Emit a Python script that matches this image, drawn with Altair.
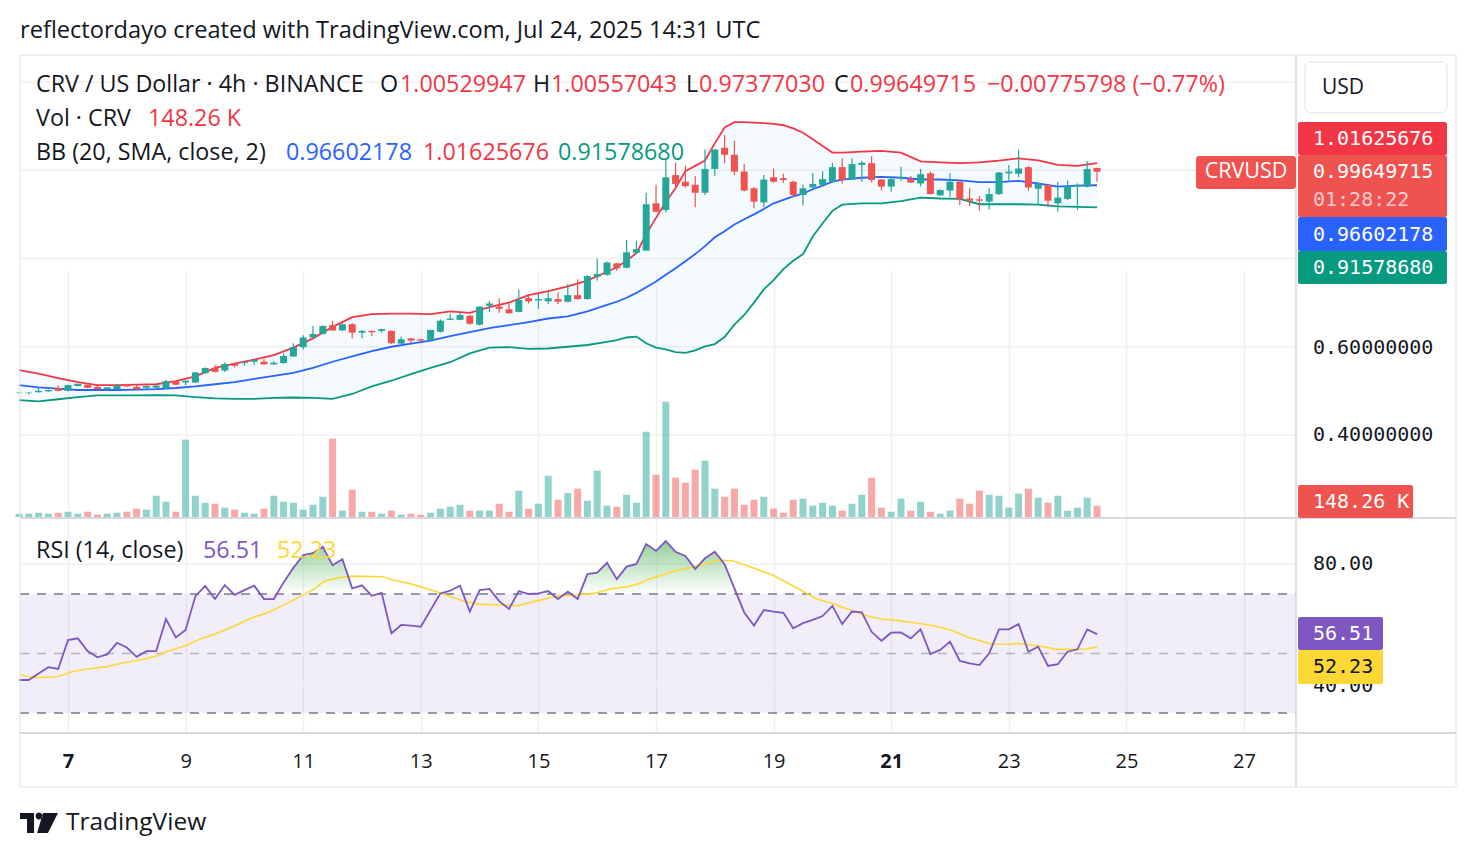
import altair as alt
import pandas as pd

# ---------------- data ----------------
# candle open times, hours after Jul 7 2025 00:00 UTC (4h bars)
hours = [-20, -16, -12, -8, -4, 0, 4, 8, 12, 16,
         20, 24, 28, 32, 36, 40, 44, 48, 52, 56,
         60, 64, 68, 72, 76, 80, 84, 88, 92, 96,
         100, 104, 108, 112, 116, 120, 124, 128, 132, 136,
         140, 144, 148, 152, 156, 160, 164, 168, 172, 176,
         180, 184, 188, 192, 196, 200, 204, 208, 212, 216,
         220, 224, 228, 232, 236, 240, 244, 248, 252, 256,
         260, 264, 268, 272, 276, 280, 284, 288, 292, 296,
         300, 304, 308, 312, 316, 320, 324, 328, 332, 336,
         340, 344, 348, 352, 356, 360, 364, 368, 372, 376,
         380, 384, 388, 392, 396, 400, 404, 408, 412, 416, 420]

opens = [.495, .495, .497, .499, .506, .500, .511, .514, .509, .504,
         .504, .515, .509, .507, .507, .506, .522, .519, .519, .540,
         .552, .546, .562, .563, .566, .566, .560, .563, .578, .599,
         .621, .629, .649, .637, .651, .632, .636, .636, .636, .607,
         .619, .617, .615, .634, .661, .661, .670, .650, .693, .691,
         .685, .679, .710, .705, .703, .708, .702, .717, .708, .759,
         .763, .789, .779, .813, .818, .925, .910, .989, .974, .967,
         .949, 1.003, 1.051, 1.035, .997, .959, .927, .984, .982, .974,
         .944, .961, .967, .974, 1.007, .979, 1.012, 1.016, .979, .963,
         .982, .980, .970, .993, .943, .954, .974, .936, .934, .929,
         .946, .993, .992, 1.007, .958, .967, .925, .935, .963, .963, 1.00529947]
highs = [.497, .497, .507, .503, .513, .514, .517, .515, .513, .509,
         .515, .516, .513, .512, .513, .525, .523, .524, .543, .553,
         .559, .565, .563, .566, .571, .572, .567, .585, .608, .626,
         .647, .649, .659, .653, .653, .638, .637, .641, .637, .623,
         .620, .618, .639, .662, .674, .678, .672, .692, .704, .710,
         .698, .729, .716, .720, .725, .723, .742, .753, .762, .800,
         .793, .790, .842, .840, .949, .967, 1.023, 1.017, 1.010, .987,
         1.047, 1.048, 1.080, 1.067, 1.014, .962, .989, 1.004, .992, .977,
         .967, .994, .998, 1.017, 1.027, 1.027, 1.021, 1.032, .980, .987,
         1.008, .987, 1.003, .997, .957, .994, .975, .959, .942, .959,
         .996, 1.012, 1.047, 1.010, .971, .968, .974, .976, .970, 1.021, 1.00557043]
lows = [.494, .492, .496, .498, .499, .499, .510, .506, .503, .500,
        .503, .509, .503, .502, .506, .504, .513, .513, .518, .539,
        .542, .543, .553, .557, .559, .559, .559, .562, .577, .594,
        .620, .628, .636, .636, .619, .619, .624, .632, .606, .605,
        .608, .612, .614, .632, .660, .660, .650, .648, .679, .677,
        .675, .678, .698, .686, .697, .697, .701, .707, .707, .750,
        .761, .772, .778, .811, .817, .905, .904, .961, .961, .916,
        .944, .987, 1.016, .989, .952, .914, .916, .972, .972, .939,
        .920, .958, .965, .972, .970, .978, .974, .972, .954, .951,
        .976, .971, .963, .945, .942, .940, .921, .919, .908, .911,
        .944, .974, .984, .954, .921, .917, .906, .932, .910, .961, .97377030]
closes = [.496, .496, .500, .502, .500, .513, .516, .507, .504, .508,
          .512, .510, .504, .511, .512, .522, .514, .523, .542, .552,
          .543, .561, .557, .565, .570, .560, .564, .579, .599, .621,
          .629, .647, .637, .651, .632, .636, .633, .640, .608, .617,
          .614, .614, .638, .659, .664, .672, .652, .691, .698, .686,
          .676, .706, .703, .708, .710, .702, .717, .708, .760, .765,
          .791, .778, .814, .821, .923, .906, .984, .969, .964, .949,
          1.003, 1.047, 1.035, .997, .954, .929, .979, .974, .978, .944,
          .959, .969, .980, 1.007, .978, 1.014, 1.017, .978, .963, .980,
          .985, .972, .991, .946, .955, .974, .934, .931, .931, .946,
          .995, .997, 1.004, .961, .970, .931, .938, .964, .967, 1.003, .99649715]
# volume, thousands of CRV
volumes = [43, 43, 56, 43, 56, 69, 43, 69, 30, 43,
           56, 69, 109, 96, 279, 200, 69, 1013, 279, 187,
           174, 122, 96, 56, 43, 109, 279, 200, 187, 96,
           161, 266, 1026, 83, 358, 69, 69, 43, 83, 30,
           43, 30, 56, 109, 135, 161, 83, 83, 83, 174,
           69, 345, 109, 174, 541, 227, 314, 371, 214, 607,
           148, 135, 292, 187, 1117, 554, 1510, 515, 449, 620,
           738, 371, 266, 371, 161, 227, 266, 109, 56, 227,
           240, 148, 187, 148, 83, 174, 292, 515, 122, 69,
           240, 83, 200, 69, 43, 83, 240, 174, 345, 292,
           279, 122, 305, 371, 253, 187, 279, 83, 122, 253, 148.26]
rsi_values = [41.1, 41.1, 43.3, 45.4, 44.8, 54.5, 55.1, 50.8, 48.7, 49.7,
              53.6, 52.0, 48.9, 50.8, 50.8, 61.6, 55.4, 57.9, 69.3, 72.7,
              68.3, 73.0, 69.7, 71.3, 72.8, 68.3, 68.3, 73.9, 78.8, 83.1,
              83.7, 85.9, 79.7, 81.7, 71.9, 72.9, 69.4, 70.4, 56.8, 59.6,
              59.4, 59.0, 64.6, 70.2, 71.1, 72.8, 64.1, 71.3, 71.7, 67.6,
              65.0, 71.0, 70.0, 70.2, 71.0, 68.3, 70.8, 68.3, 76.7, 77.2,
              80.5, 75.0, 79.2, 80.1, 86.8, 84.5, 87.8, 84.2, 82.8, 78.4,
              82.0, 84.2, 80.0, 71.9, 63.8, 59.4, 64.6, 64.1, 63.7, 58.5,
              60.2, 61.3, 62.6, 66.0, 59.9, 64.1, 63.8, 57.3, 54.3, 57.0,
              57.1, 55.1, 58.1, 49.8, 51.2, 54.0, 47.5, 46.7, 46.1, 50.1,
              58.1, 58.1, 59.9, 50.6, 52.3, 45.8, 46.4, 50.6, 51.4, 58.1, 56.51]

# Bollinger Bands (20, SMA, close, 2)
bb_hours = [-20, -12, -4, 4, 12, 20, 28, 36, 44, 52,
            60, 68, 76, 84, 92, 100, 108, 116, 124, 132,
            140, 148, 156, 164, 172, 180, 188, 196, 204, 212,
            220, 224, 228, 232, 236, 240, 244, 248, 252, 256,
            260, 264, 268, 272, 276, 280, 284, 288, 292, 296,
            300, 304, 308, 312, 316,
            324, 332, 340, 348, 356, 364, 372, 380, 388, 396, 404, 412, 420]
bb_upper = [.547, .539, .529, .520, .513, .513, .514, .515, .522, .533,
            .552, .562, .571, .581, .598, .619, .645, .667, .674, .675,
            .675, .674, .680, .677, .690, .700, .717, .726, .737, .750,
            .770, .780, .795, .812, .855, .892, .928, .960, .998, 1.010,
            1.022, 1.061, 1.097, 1.109, 1.109, 1.108, 1.107, 1.105, 1.102, 1.095,
            1.085, 1.070, 1.055, 1.040, 1.040,
            1.042, 1.044, 1.040, 1.020, 1.018, 1.016, 1.018, 1.022, 1.027, 1.0225, 1.012, 1.010, 1.01625676]
bb_basis = [.513, .508, .505, .502, .502, .502, .503, .504, .5065, .510,
            .515, .520, .527, .534, .541, .552, .566, .578, .590, .600,
            .607, .614, .624, .633, .642, .649, .656, .664, .669, .680,
            .695, .702, .711, .722, .735, .748, .763, .778, .794, .810,
            .828, .848, .862, .877, .889, .900, .912, .925, .933, .941,
            .947, .957, .965, .974, .979,
            .983, .985, .983, .979, .979, .977, .973, .973, .976, .970, .963, .965, .96602178]
bb_lower = [.479, .476, .481, .486, .490, .490, .490, .4905, .490, .486,
            .483, .482, .482, .484, .485, .484, .482, .493, .510, .523,
            .538, .552, .565, .585, .598, .599, .595, .596, .600, .604,
            .611, .615, .621, .623, .608, .598, .594, .588, .586, .592,
            .601, .606, .622, .650, .672, .700, .730, .751, .776, .795,
            .810, .850, .880, .908, .922,
            .925, .925, .930, .938, .936, .935, .923, .923, .923, .922, .918, .917, .91578680]

# RSI-based moving average (yellow)
ma_hours = [-19, -14.8, -8.8, -4.4, 1.6, 7.2, 16, 23.2, 30.4, 36.4,
            40.8, 48, 54, 59.6, 67.2, 74.4, 81.6, 88.8, 96, 100.4,
            104.8, 110.8, 116.4, 128.4, 132.8, 140, 147.2, 154.4, 161.6, 167.6,
            176.4, 183.6, 190.8, 199.6, 207.6, 214.8, 220.8, 228.8, 232.8, 237.2,
            241.6, 247.6, 253.6, 259.6, 265.2, 271.2, 277.2, 287.6, 296.4, 305.6,
            311.6, 320.4, 326.4, 332.4, 336.8, 344, 352.8, 360.4, 367.6, 376.8,
            384.4, 387.2, 396, 403.6, 410.8, 415.6, 420]
ma_values = [42.8, 42.0, 42.0, 42.2, 43.9, 44.7, 45.6, 47.0, 48.0, 49.2,
             50.8, 52.6, 54.9, 56.4, 59.0, 61.8, 63.8, 66.6, 69.7, 71.7,
             74.4, 75.5, 76.0, 75.8, 74.7, 73.4, 71.6, 69.7, 67.6, 66.6,
             66.3, 66.1, 67.6, 69.3, 69.7, 70.2, 71.6, 72.5, 73.4, 75.0,
             76.2, 77.7, 78.8, 80.0, 81.4, 81.2, 79.5, 76.4, 72.5, 68.3,
             66.9, 64.3, 62.6, 61.5, 61.3, 60.5, 59.4, 57.9, 55.4, 53.2,
             53.1, 53.4, 52.6, 51.4, 51.4, 51.5, 52.23]

# axis ticks
day_ticks = [0, 48, 96, 144, 192, 240, 288, 336, 384, 432, 480]   # Jul 7 ... Jul 27
price_grid = [0.4, 0.6, 0.8, 1.0, 1.2]
rsi_grid = [80, 40]
rsi_levels = [70, 30]
rsi_mid = [50]

# ---------------- styling ----------------
UP, DOWN = "#26A69A", "#EF5350"
TXT = "#131722"
GRID = "#F0F0F3"
FRAME = "#E0E3EB"
FONT = "Open Sans"
MONO = "DejaVu Sans Mono"
FS = 23.3         # legend / header font size

W = 1276          # plot width (page x 20..1296)
H_ALL = 678       # page y 55..733
PRICE_BOTTOM = 463

candles = pd.DataFrame({"h": hours, "open": opens, "high": highs, "low": lows,
                        "close": closes, "vol": volumes})
bb = pd.DataFrame({"h": bb_hours, "upper": bb_upper, "basis": bb_basis, "lower": bb_lower})
rsi = pd.DataFrame({"h": hours, "rsi": rsi_values})
ma = pd.DataFrame({"h": ma_hours, "ma": ma_values})
one = pd.DataFrame({"a": [0]})

xscale = alt.Scale(domain=[-19.59, 501.22], nice=False, zero=False, padding=0)
xaxis = alt.Axis(values=day_ticks, labelExpr="datum.value / 24 + 7", title=None,
                 grid=True, gridColor=GRID, gridWidth=1.5, ticks=False, domain=False,
                 labelFontSize=20, labelFont=FONT, labelColor=TXT, labelPadding=28,
                 labelBaseline="middle",
                 labelFontWeight={"condition": {"test": "datum.value == 0 || datum.value == 336",
                                                "value": "bold"}, "value": "normal"})
X = alt.X("h:Q", scale=xscale, axis=xaxis)

pscale = alt.Scale(domain=[0.2119, 1.2612], range=[PRICE_BOTTOM, 0], nice=False, zero=False)
vscale = alt.Scale(domain=[0, 6052], range=[462, 0], nice=False, zero=False)
rscale = alt.Scale(domain=[23.28, 95.55], range=[H_ALL, PRICE_BOTTOM], nice=False, zero=False)

updown = alt.condition("datum.close >= datum.open", alt.value(UP), alt.value(DOWN))

layers = []

# price grid
layers.append(alt.Chart(pd.DataFrame({"p": price_grid})).mark_rule(color=GRID, strokeWidth=1.5).encode(
    y=alt.Y("p:Q", scale=pscale, axis=None), x=alt.value(0), x2=alt.value(W)))
# rsi background band
layers.append(alt.Chart(one).mark_rect(color="#7E57C2", opacity=0.1).encode(
    y=alt.datum(70, scale=rscale, axis=None), y2=alt.datum(30), x=alt.value(0), x2=alt.value(W)))
# rsi grid
layers.append(alt.Chart(pd.DataFrame({"r": rsi_grid})).mark_rule(color=GRID, strokeWidth=1.5).encode(
    y=alt.Y("r:Q", scale=rscale, axis=None), x=alt.value(0), x2=alt.value(W)))
# dashed levels
layers.append(alt.Chart(pd.DataFrame({"r": rsi_levels})).mark_rule(
    color="#787B86", strokeWidth=1.5, strokeDash=[9, 8]).encode(
    y=alt.Y("r:Q", scale=rscale, axis=None), x=alt.value(0), x2=alt.value(W)))
layers.append(alt.Chart(pd.DataFrame({"r": rsi_mid})).mark_rule(
    color="#787B86", opacity=0.5, strokeWidth=1.5, strokeDash=[9, 8]).encode(
    y=alt.Y("r:Q", scale=rscale, axis=None), x=alt.value(0), x2=alt.value(W)))

# BB fill
layers.append(alt.Chart(bb).mark_area(color="#2196F3", opacity=0.05).encode(
    x=X, y=alt.Y("upper:Q", scale=pscale, axis=None), y2="lower:Q"))
# volume
layers.append(alt.Chart(candles).mark_bar(size=7, opacity=0.5).encode(
    x=X, y=alt.Y("vol:Q", scale=vscale, axis=None), y2=alt.datum(0), color=updown))
# BB lines
for col, c in [("upper", "#F23645"), ("basis", "#2962FF"), ("lower", "#089981")]:
    layers.append(alt.Chart(bb).mark_line(color=c, strokeWidth=1.8).encode(
        x=X, y=alt.Y(f"{col}:Q", scale=pscale, axis=None)))
# candles
layers.append(alt.Chart(candles).mark_rule(strokeWidth=1.2).encode(
    x=X, y=alt.Y("low:Q", scale=pscale, axis=None), y2="high:Q", color=updown))
layers.append(alt.Chart(candles).mark_bar(size=7).encode(
    x=X, y=alt.Y("open:Q", scale=pscale, axis=None), y2="close:Q", color=updown))

# RSI overbought gradient
grad = alt.Gradient(gradient="linear",
                    stops=[alt.GradientStop(color="rgba(76,175,80,0.6)", offset=0),
                           alt.GradientStop(color="rgba(76,175,80,0.0)", offset=1)],
                    x1=0, x2=0, y1=0, y2=1)
layers.append(alt.Chart(rsi).transform_calculate(hi="max(datum.rsi, 70)").mark_area(color=grad).encode(
    x=X, y=alt.Y("hi:Q", scale=rscale, axis=None), y2=alt.datum(70)))
layers.append(alt.Chart(ma).mark_line(color="#FDD835", strokeWidth=1.6).encode(
    x=X, y=alt.Y("ma:Q", scale=rscale, axis=None)))
layers.append(alt.Chart(rsi).mark_line(color="#7E57C2", strokeWidth=1.8).encode(
    x=X, y=alt.Y("rsi:Q", scale=rscale, axis=None)))


# ---------------- frame & annotations (page pixel positions) ----------------
def px(x):
    return x - 20


def py(y):
    return y - 55


def hrule(y, x1, x2, color=FRAME, w=1.0):
    return alt.Chart(one).mark_rule(color=color, strokeWidth=w).encode(
        x=alt.value(px(x1)), x2=alt.value(px(x2)), y=alt.value(py(y)))


def vrule(x, y1, y2, color=FRAME, w=1.0):
    return alt.Chart(one).mark_rule(color=color, strokeWidth=w).encode(
        x=alt.value(px(x)), y=alt.value(py(y1)), y2=alt.value(py(y2)))


def box(x1, x2, y1, y2, fill, stroke=None, radius=2):
    kw = dict(color=fill, cornerRadius=radius)
    if stroke:
        kw.update(stroke=stroke, strokeWidth=1)
    return alt.Chart(one).mark_rect(**kw).encode(
        x=alt.value(px(x1)), x2=alt.value(px(x2)), y=alt.value(py(y1)), y2=alt.value(py(y2)))


def label(x, y, s, color=TXT, size=FS, font=FONT, align="left", weight="normal", opacity=1.0):
    return alt.Chart(one).mark_text(
        x=px(x), y=py(y), text=s, color=color, fontSize=size, font=font, align=align,
        baseline="middle", fontWeight=weight, opacity=opacity)


layers += [
    hrule(55, 20, 1456), hrule(787, 20, 1456), hrule(518, 20, 1456, "#D6D9E0", 2),
    hrule(733, 20, 1456, "#D6D9E0", 2),
    vrule(20, 55, 787), vrule(1456, 55, 787), vrule(1296, 55, 787, "#D6D9E0", 1.5),
]

# header & legends
RED = "#F23645"
layers += [
    label(20, 31, "reflectordayo created with TradingView.com, Jul 24, 2025 14:31 UTC", size=23.6),
    label(36, 85, "CRV / US Dollar · 4h · BINANCE"),
    label(380, 85, "O"), label(400, 85, "1.00529947", RED),
    label(533, 85, "H"), label(551, 85, "1.00557043", RED),
    label(686, 85, "L"), label(699, 85, "0.97377030", RED),
    label(834, 85, "C"), label(850, 85, "0.99649715", RED),
    label(987, 85, "−0.00775798 (−0.77%)", RED),
    label(36, 119, "Vol · CRV"), label(148, 119, "148.26 K", RED),
    label(36, 153, "BB (20, SMA, close, 2)"),
    label(286, 153, "0.96602178", "#2962FF"),
    label(423, 153, "1.01625676", RED),
    label(558, 153, "0.91578680", "#089981"),
    label(36, 551, "RSI (14, close)"),
    label(203, 551, "56.51", "#7E57C2"),
    label(277, 551, "52.23", "#FDD835"),
]

# right price scale
layers += [
    label(1313, 348, "0.60000000", size=20, font=MONO),
    label(1313, 435, "0.40000000", size=20, font=MONO),
    label(1313, 564, "80.00", size=20, font=MONO),
    label(1313, 686, "40.00", size=20, font=MONO),
    box(1305, 1447, 62, 113, "white", FRAME, 6), label(1322, 88, "USD", size=21),
    box(1298, 1447, 122, 155, "#F23645"), label(1313, 139, "1.01625676", "white", 20, MONO),
    box(1298, 1447, 155, 217, "#EF5350"), label(1313, 172, "0.99649715", "white", 20, MONO),
    label(1313, 200, "01:28:22", "white", 20, MONO, opacity=0.7),
    box(1196, 1296, 156, 189, "#EF5350", radius=3),
    label(1246, 172, "CRVUSD", "white", 21.5, align="center"),
    box(1298, 1447, 217, 251, "#2962FF"), label(1313, 235, "0.96602178", "white", 20, MONO),
    box(1298, 1447, 251, 284, "#089981"), label(1313, 268, "0.91578680", "white", 20, MONO),
    box(1298, 1413, 485, 518, "#EF5350"), label(1313, 502, "148.26 K", "white", 20, MONO),
    box(1298, 1383, 617, 650, "#7E57C2"), label(1313, 634, "56.51", "white", 20, MONO),
    box(1298, 1383, 650, 684, "#FDD835"), label(1313, 667, "52.23", TXT, 20, MONO),
]

# TradingView logo
logo_path = ("M -1 -0.53 L -0.26 -0.53 L -0.26 0.53 L -0.63 0.53 L -0.63 -0.21 L -1 -0.21 Z "
             "M -0.18 -0.37 A 0.18 0.18 0 1 0 0.18 -0.37 A 0.18 0.18 0 1 0 -0.18 -0.37 Z "
             "M 0.21 -0.53 L 1 -0.53 L 0.47 0.53 L -0.1 0.53 Z")
layers.append(alt.Chart(one).mark_point(shape=logo_path, filled=True, size=38 * 38, color=TXT,
                                         opacity=1, strokeWidth=0).encode(
    x=alt.value(px(39)), y=alt.value(py(823))))
layers.append(label(66, 823, "TradingView", TXT, size=24.5))

chart = alt.layer(*layers).resolve_scale(y="independent").properties(
    width=W, height=H_ALL,
    autosize=alt.AutoSizeParams(type="none"),
    padding={"left": 20, "top": 55, "right": 180, "bottom": 125},
    background="white",
).configure_view(stroke=None)

chart.save("out.html", embed_options={"renderer": "svg", "actions": False})
